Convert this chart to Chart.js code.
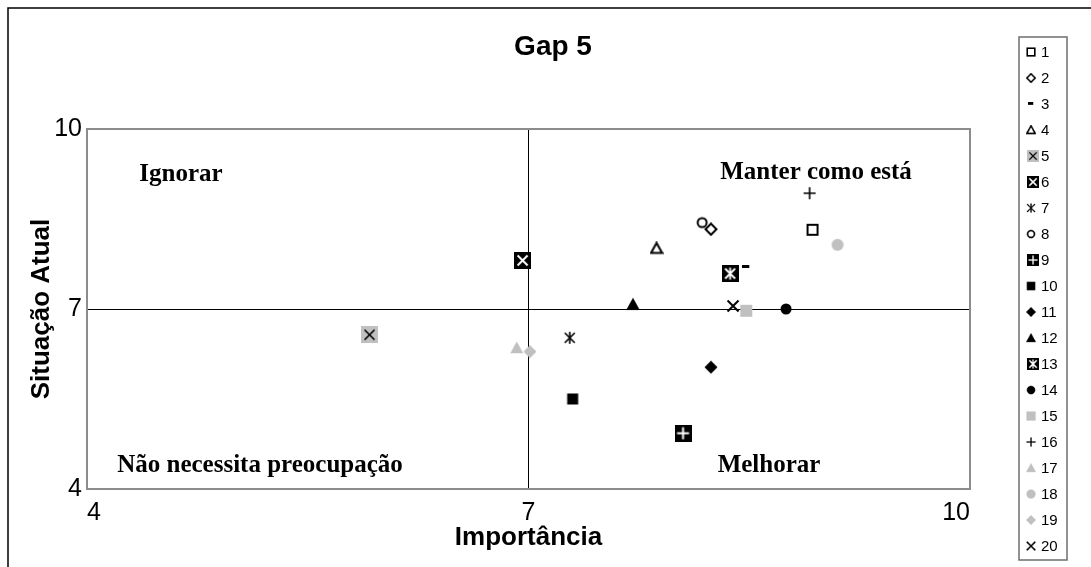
<!DOCTYPE html>
<html>
<head>
<meta charset="utf-8">
<script src="https://cdn.jsdelivr.net/npm/chart.js@4"></script>
<style>
  html, body { margin: 0; padding: 0; background: #fff; }
  canvas { display: block; }
</style>
</head>
<body>
<canvas id="c" width="1091" height="567"></canvas>
<script>
// Item numbers and their scores
const itemLabels = ['1','2','3','4','5','6','7','8','9','10','11','12','13','14','15','16','17','18','19','20'];
const importancia = [8.93, 8.24, 8.48, 7.87, 5.92, 6.96, 7.28, 8.18, 8.05, 7.30, 8.24, 7.71, 8.37, 8.75, 8.48, 8.91, 6.92, 9.10, 7.01, 8.39];
const situacaoAtual = [8.32, 8.33, 7.70, 8.01, 6.57, 7.81, 6.52, 8.44, 4.93, 5.50, 6.03, 7.08, 7.59, 7.00, 6.97, 8.93, 6.35, 8.07, 6.29, 7.05];
const markerKinds = ['openSquare','openDiamond','dash','openTriangle','grayBoxX','blackBoxX','asterisk','openCircle','blackBoxPlus','blackSquare',
                     'blackDiamond','blackTriangle','blackBoxAsterisk','blackCircle','graySquare','plus','grayTriangle','grayCircle','grayDiamond','cross'];
const axisTicks = [4, 7, 10];
const divider = 7;

const GRAY = '#c0c0c0';
const SANS = '"Liberation Sans", Arial, sans-serif';

// Builds a small canvas used as the point style of a series
function makeMarker(kind) {
  const sizes = { dash: [8, 4], grayBoxX: [17, 17], blackBoxX: [17, 17], blackBoxPlus: [17, 17], blackBoxAsterisk: [17, 17] };
  const [w, h] = sizes[kind] || [14, 14];
  const cv = document.createElement('canvas');
  cv.width = w; cv.height = h;
  const c = cv.getContext('2d');
  const cx = w / 2, cy = h / 2;
  const diamond = (r) => { c.beginPath(); c.moveTo(cx, cy - r); c.lineTo(cx + r, cy); c.lineTo(cx, cy + r); c.lineTo(cx - r, cy); c.closePath(); };
  const triangle = (r) => { c.beginPath(); c.moveTo(cx, cy - r); c.lineTo(cx + r, cy + r * 0.8); c.lineTo(cx - r, cy + r * 0.8); c.closePath(); };
  const xLines = (r) => { c.beginPath(); c.moveTo(cx - r, cy - r); c.lineTo(cx + r, cy + r); c.moveTo(cx + r, cy - r); c.lineTo(cx - r, cy + r); c.stroke(); };
  const plusLines = (r) => { c.beginPath(); c.moveTo(cx, cy - r); c.lineTo(cx, cy + r); c.moveTo(cx - r, cy); c.lineTo(cx + r, cy); c.stroke(); };
  const starLines = (r) => { xLines(r); c.beginPath(); c.moveTo(cx, cy - r * 1.2); c.lineTo(cx, cy + r * 1.2); c.stroke(); };
  switch (kind) {
    case 'openSquare': c.strokeStyle = '#000'; c.lineWidth = 2; c.strokeRect(2, 2, 10, 10); break;
    case 'openDiamond': c.strokeStyle = '#000'; c.lineWidth = 2; diamond(5.5); c.stroke(); break;
    case 'dash': c.fillStyle = '#000'; c.fillRect(0, 0, 7, 3); break;
    case 'openTriangle': c.strokeStyle = '#000'; c.lineWidth = 2; triangle(5.5); c.stroke(); break;
    case 'grayBoxX': c.fillStyle = GRAY; c.fillRect(0, 0, w, h); c.strokeStyle = '#000'; c.lineWidth = 1.6; xLines(5); break;
    case 'blackBoxX': c.fillStyle = '#000'; c.fillRect(0, 0, w, h); c.strokeStyle = '#fff'; c.lineWidth = 2; xLines(5); break;
    case 'asterisk': c.strokeStyle = '#000'; c.lineWidth = 1.6; starLines(5); break;
    case 'openCircle': c.strokeStyle = '#000'; c.lineWidth = 2; c.beginPath(); c.arc(cx, cy, 4.5, 0, Math.PI * 2); c.stroke(); break;
    case 'blackBoxPlus': c.fillStyle = '#000'; c.fillRect(0, 0, w, h); c.strokeStyle = '#fff'; c.lineWidth = 2; plusLines(6); break;
    case 'blackSquare': c.fillStyle = '#000'; c.fillRect(1.5, 1.5, 11, 11); break;
    case 'blackDiamond': c.fillStyle = '#000'; diamond(6.5); c.fill(); break;
    case 'blackTriangle': c.fillStyle = '#000'; triangle(6.5); c.fill(); break;
    case 'blackBoxAsterisk': c.fillStyle = '#000'; c.fillRect(0, 0, w, h); c.strokeStyle = '#fff'; c.lineWidth = 1.8; starLines(5); break;
    case 'blackCircle': c.fillStyle = '#000'; c.beginPath(); c.arc(cx, cy, 5.5, 0, Math.PI * 2); c.fill(); break;
    case 'graySquare': c.fillStyle = GRAY; c.fillRect(1, 1, 12, 12); break;
    case 'plus': c.strokeStyle = '#000'; c.lineWidth = 1.6; plusLines(6); break;
    case 'grayTriangle': c.fillStyle = GRAY; triangle(6.5); c.fill(); break;
    case 'grayCircle': c.fillStyle = GRAY; c.beginPath(); c.arc(cx, cy, 6, 0, Math.PI * 2); c.fill(); break;
    case 'grayDiamond': c.fillStyle = GRAY; diamond(6.5); c.fill(); break;
    case 'cross': c.strokeStyle = '#000'; c.lineWidth = 2; xLines(5.5); break;
  }
  return cv;
}

const markers = markerKinds.map(makeMarker);

const datasets = itemLabels.map((lab, i) => ({
  label: lab,
  data: [{ x: importancia[i], y: situacaoAtual[i] }],
  pointStyle: markers[i],
  pointRadius: 7,
  pointHoverRadius: 7
}));

// Frame, quadrant captions, title and the boxed series key
const decorations = {
  id: 'decorations',
  beforeDatasetsDraw(chart) {
    const { ctx, chartArea: a } = chart;
    ctx.save();
    ctx.strokeStyle = '#8c8c8c';
    ctx.lineWidth = 2;
    ctx.strokeRect(a.left, a.top, a.right - a.left, a.bottom - a.top);
    ctx.restore();
  },
  afterDraw(chart) {
    const { ctx } = chart;
    ctx.save();
    // outer frame
    ctx.strokeStyle = '#000';
    ctx.lineWidth = 1.5;
    ctx.beginPath();
    ctx.moveTo(8, 567); ctx.lineTo(8, 8); ctx.lineTo(1091, 8);
    ctx.stroke();

    // title
    ctx.fillStyle = '#000';
    ctx.textAlign = 'center';
    ctx.textBaseline = 'middle';
    ctx.font = 'bold 28px ' + SANS;
    ctx.fillText('Gap 5', 553, 47);

    // quadrant captions
    ctx.font = 'bold 25px "Liberation Serif", "Times New Roman", serif';
    ctx.fillText('Ignorar', 181, 175);
    ctx.fillText('Manter como está', 816, 173);
    ctx.fillText('Não necessita preocupação', 260, 466);
    ctx.fillText('Melhorar', 769, 466);

    // key: smaller copies of the point styles beside each item number
    const kx = 1019, ky = 37, kw = 48, kh = 523;
    ctx.strokeStyle = '#6e6e6e';
    ctx.lineWidth = 1.5;
    ctx.strokeRect(kx, ky, kw, kh);
    ctx.font = '15px ' + SANS;
    ctx.textAlign = 'left';
    const k = 0.76;
    chart.data.datasets.forEach((ds, i) => {
      const y = 52 + i * 26;
      const m = ds.pointStyle;
      const mx = m.width >= 17 ? 1033 : 1031;
      const w = m.width * k, h = m.height * k;
      ctx.drawImage(m, mx - w / 2, y - h / 2, w, h);
      ctx.fillText(ds.label, 1041, y + 1);
    });
    ctx.restore();
  }
};

new Chart(document.getElementById('c'), {
  type: 'scatter',
  data: { datasets },
  plugins: [decorations],
  options: {
    responsive: false,
    animation: false,
    events: [],
    devicePixelRatio: 1,
    layout: { padding: { left: 0, right: 121, top: 129, bottom: 0 } },
    plugins: { legend: { display: false }, tooltip: { enabled: false }, title: { display: false } },
    scales: {
      x: {
        type: 'linear',
        min: axisTicks[0], max: axisTicks[axisTicks.length - 1],
        afterBuildTicks(scale) { scale.ticks = axisTicks.map(v => ({ value: v })); },
        afterFit(scale) { scale.height = 78; },
        ticks: { color: '#000', font: { family: SANS, size: 25 }, padding: 9, align: 'inner', maxRotation: 0 },
        grid: { drawTicks: false, lineWidth: 1, color: c => (c.tick && c.tick.value === divider) ? '#000' : 'rgba(0,0,0,0)' },
        border: { display: false },
        title: { display: true, text: 'Importância', color: '#000', font: { family: SANS, size: 26, weight: 'bold' }, padding: { top: 0, bottom: 14 } }
      },
      y: {
        type: 'linear',
        min: axisTicks[0], max: axisTicks[axisTicks.length - 1],
        afterBuildTicks(scale) { scale.ticks = axisTicks.map(v => ({ value: v })); },
        afterFit(scale) { scale.width = 87; },
        ticks: { color: '#000', font: { family: SANS, size: 25 }, padding: 5 },
        grid: { drawTicks: false, lineWidth: 1, color: c => (c.tick && c.tick.value === divider) ? '#000' : 'rgba(0,0,0,0)' },
        border: { display: false },
        title: { display: true, text: 'Situação Atual', color: '#000', font: { family: SANS, size: 26, weight: 'bold' }, padding: { top: 26, bottom: 0 } }
      }
    }
  }
});
</script>
</body>
</html>
